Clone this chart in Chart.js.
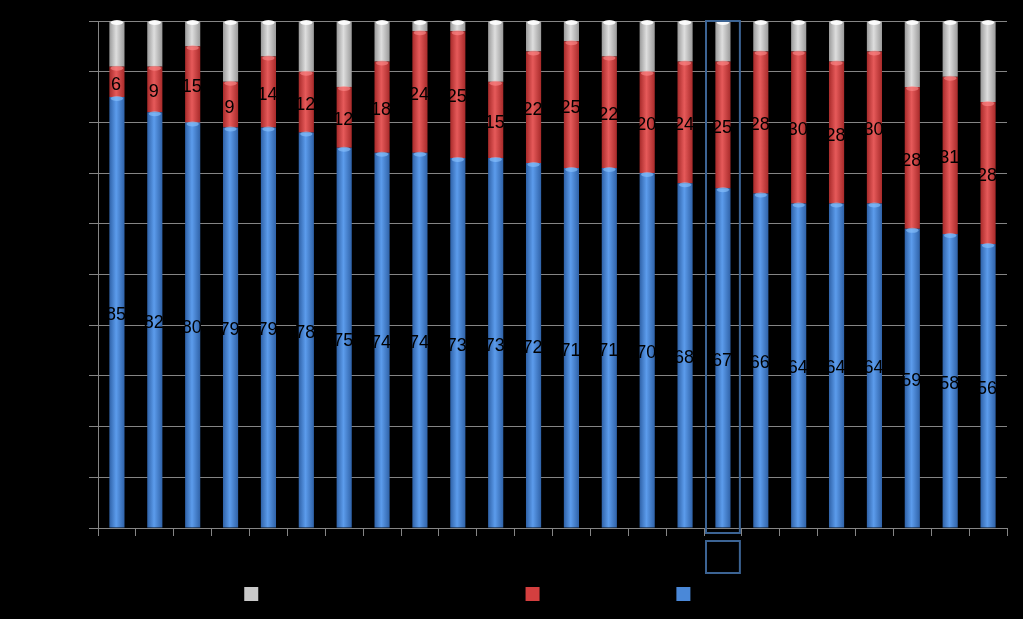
<!DOCTYPE html>
<html>
<head>
<meta charset="utf-8">
<script src="https://cdn.jsdelivr.net/npm/chart.js@4"></script>
<style>
  html, body { margin: 0; padding: 0; background: #000; }
  #wrap { width: 1023px; height: 619px; }
</style>
</head>
<body>
<div id="wrap"><canvas id="chart"></canvas></div>
<script>
// Data (percent per bar)
const categories = ['1', '2', '3', '4', '5', '6', '7', '8', '9', '10', '11', '12',
    '13', '14', '15', '16', '17', '18', '19', '20', '21', '22', '23', '24'];
const blueValues = [85, 82, 80, 79, 79, 78, 75, 74, 74, 73, 73, 72, 71, 71, 70, 68, 67, 66, 64, 64, 64, 59, 58, 56];
const redValues = [6, 9, 15, 9, 14, 12, 12, 18, 24, 25, 15, 22, 25, 22, 20, 24, 25, 28, 30, 28, 30, 28, 31, 28];
const grayValues = [9, 9, 5, 12, 7, 10, 13, 8, 2, 2, 12, 6, 4, 7, 10, 8, 8, 6, 6, 8, 6, 13, 11, 16];
const yTicks = [0, 10, 20, 30, 40, 50, 60, 70, 80, 90, 100];
const highlightIndex = 16;

const seriesNames = ['Agree / for', 'Disagrees / against', 'Hard to say / no answer / refused to say.'];
const solid = ['#4a88d8', '#d43f3f', '#c9c9c9'];
const shades = [
    ['#2f62a8', '#5c9cec', '#2f62a8'],
    ['#a82a2a', '#e65a5a', '#a82a2a'],
    ['#9a9a9a', '#dedede', '#9a9a9a']
];
const caps = ['#8cc4ff', '#ff8c8c', '#ffffff'];

// horizontal gradient across each bar, placed on the x scale
function barFill(ds) {
    return function (ctx) {
        const chart = ctx.chart;
        const x = chart.scales.x;
        if (!x || ctx.dataIndex === undefined) return solid[ds];
        const px = x.getPixelForValue(ctx.dataIndex);
        const half = x.width / categories.length * 0.2;
        if (!isFinite(px) || !isFinite(half) || half <= 0) return solid[ds];
        const g = chart.ctx.createLinearGradient(px - half, 0, px + half, 0);
        g.addColorStop(0, shades[ds][0]);
        g.addColorStop(0.45, shades[ds][1]);
        g.addColorStop(1, shades[ds][2]);
        return g;
    };
}

// light cap on the top of every segment + black value labels
const barDecor = {
    id: 'barDecor',
    afterDatasetsDraw(chart) {
        const c = chart.ctx;
        chart.data.datasets.forEach((ds, di) => {
            const meta = chart.getDatasetMeta(di);
            meta.data.forEach((bar, i) => {
                const w = bar.width;
                c.save();
                c.fillStyle = caps[di];
                c.globalAlpha = di === 2 ? 0.9 : 0.6;
                c.beginPath();
                c.ellipse(bar.x, bar.y + 1.5, w / 2 - 1.5, 2.5, 0, 0, Math.PI * 2);
                c.fill();
                c.restore();
                if (di < 2) {
                    c.save();
                    c.fillStyle = '#000';
                    c.font = '18px "Liberation Sans", Arial, sans-serif';
                    c.textAlign = 'center';
                    c.textBaseline = 'middle';
                    c.fillText(String(ds.data[i]), bar.x - 1, (bar.y + bar.base) / 2 + 3);
                    c.restore();
                }
            });
        });
    }
};

// outline around the highlighted column and the empty box under it
const highlight = {
    id: 'highlight',
    afterDraw(chart) {
        const x = chart.scales.x, y = chart.scales.y;
        const px = x.getPixelForValue(highlightIndex);
        const half = x.width / categories.length / 2 - 2;
        const c = chart.ctx;
        c.save();
        c.strokeStyle = '#3c6494';
        c.lineWidth = 2;
        c.strokeRect(px - half, y.getPixelForValue(100), half * 2, y.getPixelForValue(0) - y.getPixelForValue(100) + 5);
        c.strokeRect(px - half, y.getPixelForValue(0) + 13, half * 2, 32);
        c.restore();
    }
};

const gridGray = '#858585';

new Chart(document.getElementById('chart'), {
    type: 'bar',
    data: {
        labels: categories,
        datasets: [
            { label: seriesNames[0], data: blueValues, backgroundColor: barFill(0) },
            { label: seriesNames[1], data: redValues, backgroundColor: barFill(1) },
            { label: seriesNames[2], data: grayValues, backgroundColor: barFill(2) }
        ]
    },
    options: {
        responsive: true,
        maintainAspectRatio: false,
        animation: false,
        datasets: { bar: { barPercentage: 0.4, categoryPercentage: 1, borderWidth: 0 } },
        layout: { padding: { top: 21, right: 16, left: 0, bottom: 8 } },
        plugins: {
            tooltip: { enabled: false },
            legend: {
                position: 'bottom',
                reverse: true,
                labels: {
                    color: '#000',
                    boxWidth: 14,
                    boxHeight: 14,
                    padding: 10,
                    font: { size: 14, family: '"Liberation Sans", Arial, sans-serif' },
                    generateLabels(chart) {
                        const items = Chart.defaults.plugins.legend.labels.generateLabels(chart);
                        items.forEach(it => {
                            it.fillStyle = solid[it.datasetIndex];
                            it.strokeStyle = solid[it.datasetIndex];
                            it.lineWidth = 0;
                        });
                        return items;
                    }
                }
            }
        },
        scales: {
            x: {
                stacked: true,
                grid: { display: true, drawOnChartArea: false, drawTicks: true, tickLength: 8, color: gridGray, offset: true },
                border: { color: gridGray },
                ticks: { color: '#000', font: { size: 12 } },
                afterFit(scale) { scale.height = 49; }
            },
            y: {
                stacked: true,
                min: 0,
                max: 100,
                afterBuildTicks(scale) { scale.ticks = yTicks.map(v => ({ value: v })); },
                grid: { color: gridGray, tickLength: 9 },
                border: { color: gridGray },
                ticks: { color: '#000', font: { size: 12 }, callback: v => v + '%' },
                afterFit(scale) { scale.width = 98; }
            }
        }
    },
    plugins: [barDecor, highlight]
});
</script>
</body>
</html>
